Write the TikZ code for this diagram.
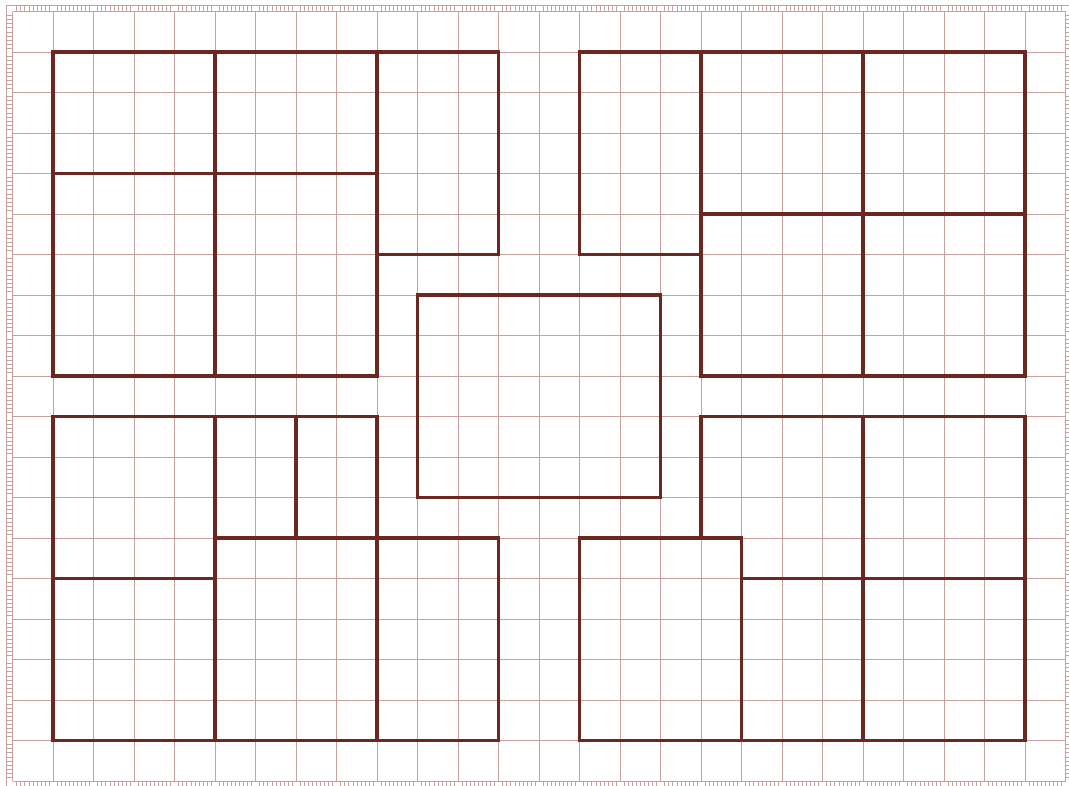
\documentclass[tikz,border=0pt]{standalone}
\definecolor{wall}{RGB}{108,40,32}
\definecolor{rule}{RGB}{200,160,160}
\begin{document}
\begin{tikzpicture}[x = 1cm, y = -1cm, room/.style = {draw=wall, line width=2.5pt, line join=miter}, raster/.style = {draw=rule, line width=0.45pt}, tick/.style = {draw=rule, line width=0.3pt},]
		\useasboundingbox (-0.309,-0.284) rectangle (26.086,19.123);
		\draw[raster] (0,0) grid (26,19);
		\draw[tick] (-0.15,-0.16) rectangle (26.15,19.16);
		\foreach \i in {0,...,25} {
			\foreach \k in {1,...,9} {
				\draw[tick] (\i+\k/10,-0.16) -- (\i+\k/10,0);
				\draw[tick] (\i+\k/10,19) -- (\i+\k/10,19.16);
			}
		}
		\foreach \j in {0,...,18} {
			\foreach \k in {1,...,9} {
				\draw[tick] (-0.15,\j+\k/10) -- (0,\j+\k/10);
				\draw[tick] (26,\j+\k/10) -- (26.15,\j+\k/10);
			}
		}
		
		\draw[room] (1,1) rectangle (9,9);
		\draw[room] (5,1) -- (5,9);
		\draw[room] (1,4) -- (9,4);
		\draw[room] (9,1) rectangle (12,6);
		\draw[room] (14,1) rectangle (17,6);
		\draw[room] (17,1) rectangle (25,9);
		\draw[room] (17,5) -- (25,5);
		\draw[room] (21,1) -- (21,9);
		\draw[room] (10,7) rectangle (16,12);
		\draw[room] (1,10) rectangle (9,18);
		\draw[room] (5,10) -- (5,18);
		\draw[room] (1,14) -- (5,14);
		\draw[room] (7,10) -- (7,13);
		\draw[room] (5,13) -- (12,13) -- (12,18) -- (9,18);
		\draw[room] (17,13) -- (17,10) -- (25,10) -- (25,18) -- (14,18) -- (14,13) -- (18,13) -- (18,18);
		\draw[room] (21,10) -- (21,18);
		\draw[room] (18,14) -- (25,14);
	\end{tikzpicture}
\end{document}
